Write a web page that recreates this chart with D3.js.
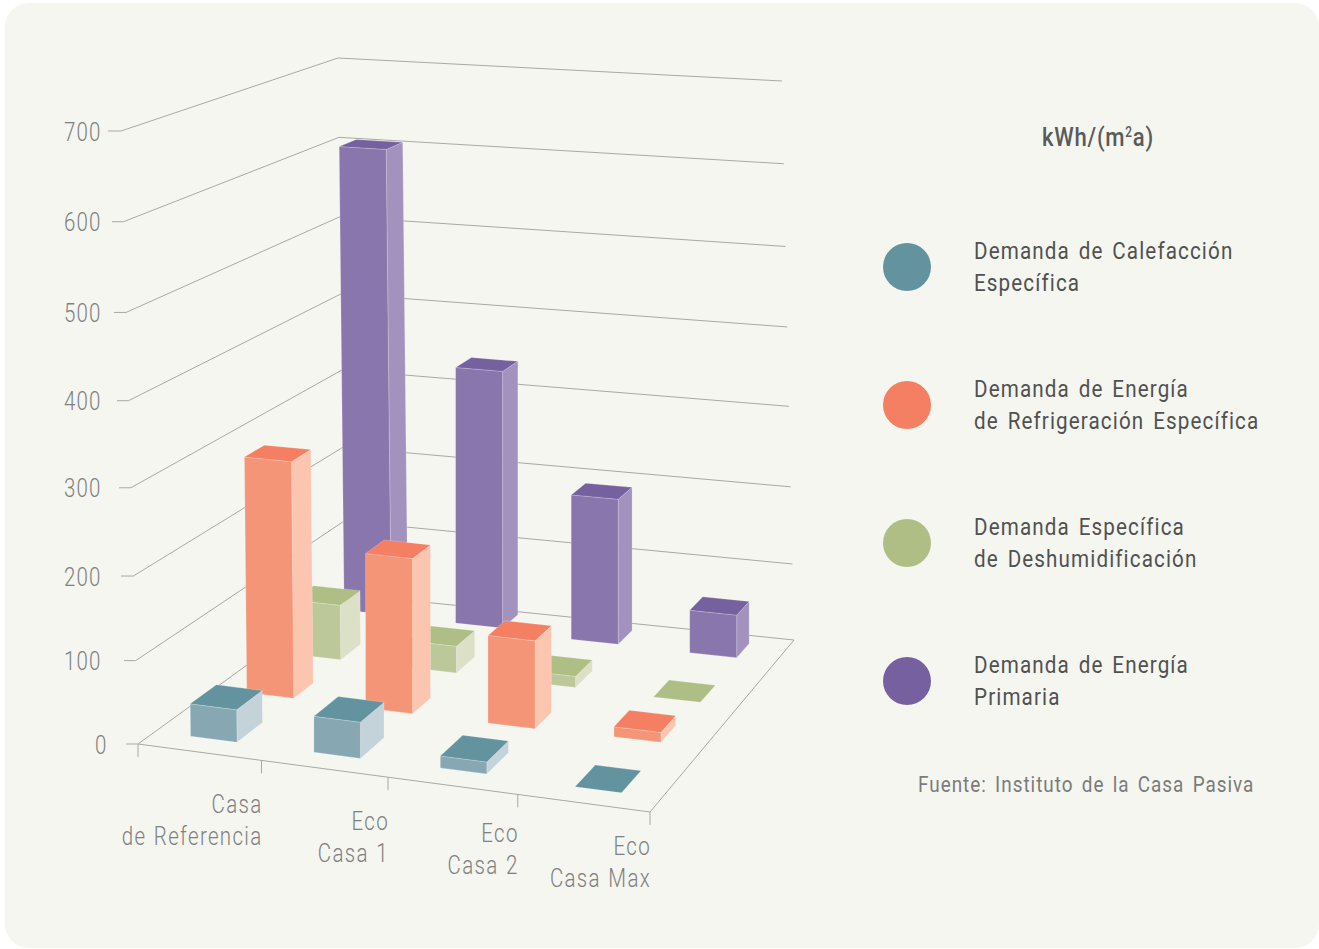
<!DOCTYPE html>
<html><head><meta charset="utf-8">
<script src="https://cdn.jsdelivr.net/npm/d3@7"></script>
<style>html,body{margin:0;padding:0;background:#fff}svg{display:block}text{font-family:Roboto,"Noto Sans",sans-serif}</style>
</head><body><div id="chart"></div>
<script>
// ---------- data ----------
const categories = ["Casa|de Referencia", "Eco|Casa 1", "Eco|Casa 2", "Eco|Casa Max"];
const seriesNames = ["Demanda de Calefacción|Específica", "Demanda de Energía|de Refrigeración Específica", "Demanda Específica|de Deshumidificación", "Demanda de Energía|Primaria"];
const calefaccion = [39, 43, 14, 0];
const refrigeracion = [288, 190, 107, 12];
const deshumidificacion = [70, 34, 14, 0];
const primaria = [595, 330, 188, 55];
const valueTicks = [0, 100, 200, 300, 400, 500, 600, 700];
const source = "Fuente: Instituto de la Casa Pasiva";

// ---------- layout / style ----------
const W = 1319, H = 949;
const floorQuad = [[138, 744], [650, 812], [794, 640], [345, 594]];   // FL, FR, BR, BL
const wallTopQuad = [[121, 131], [648, 173], [782, 81], [338, 58]];
const heightShare = [0, 0.136, 0.274, 0.418, 0.56, 0.704, 0.852, 1];
const categoryEdges = [0, 0.2575, 0.51, 0.758, 1];
const seriesCenters = [0.125, 0.3775, 0.625, 0.89];
const faceColors = [
  {top: "#62939f", front: "#87a8b3", side: "#c4d2d9"},
  {top: "#f47f62", front: "#f59578", side: "#fcc5b0"},
  {top: "#aebe84", front: "#bcc89a", side: "#dce0c6"},
  {top: "#7661a0", front: "#8976ac", side: "#a392bd"}
];
const legendColors = ["#62939f", "#f47f62", "#aebe84", "#7660a0"];
const barFrontPx = [46.5, 47, 47, 47];
const barDepthV = [0.46, 0.38, 0.42, 0.38];
// small per-bar pixel offsets of the drawn boxes, by series then category
const barNudge = [
  [[-1, -1], [-1.5, -1], [-2, -2], [3, 0]],
  [[-2, -1], [-3, 0], [-3, 0], [-2, -1.5]],
  [[-4, -2], [-4.5, -2], [-4, -1], [0, 0]],
  [[-4, -8], [-5, -7], [-4, -3], [-2, -2]]
];
const stubLeft = [126, 124, 121, 119, 117, 114, 112, 108];
const catLabelY = [804, 821, 833, 846];
const legendY = [267, 405, 543, 681];

const seriesValues = [calefaccion, refrigeracion, deshumidificacion, primaria];

// ---------- projection ----------
function squareToQuad([p0, p1, p2, p3]) {
  const dx1 = p1[0] - p2[0], dx2 = p3[0] - p2[0], sx = p0[0] - p1[0] + p2[0] - p3[0];
  const dy1 = p1[1] - p2[1], dy2 = p3[1] - p2[1], sy = p0[1] - p1[1] + p2[1] - p3[1];
  const den = dx1 * dy2 - dx2 * dy1;
  const g = (sx * dy2 - dx2 * sy) / den, h = (dx1 * sy - sx * dy1) / den;
  const a = p1[0] - p0[0] + g * p1[0], b = p3[0] - p0[0] + h * p3[0], c = p0[0];
  const d = p1[1] - p0[1] + g * p1[1], e = p3[1] - p0[1] + h * p3[1], f = p0[1];
  return (u, v) => { const w = g * u + h * v + 1; return [(a * u + b * v + c) / w, (d * u + e * v + f) / w]; };
}
const floorAt = squareToQuad(floorQuad), wallTopAt = squareToQuad(wallTopQuad);
const hScale = d3.scaleLinear().domain(valueTicks).range(heightShare);
const leanScale = d3.scaleLinear().domain([0, 0.125, 0.375, 1]).range([8, 6, 0, 0]);
function project(u, v, val) {
  const a = floorAt(u, v), b = wallTopAt(u, v), s = hScale(val);
  return [a[0] + (b[0] - a[0]) * s, a[1] + (b[1] - a[1]) * s];
}
const uScale = d3.scaleLinear().domain([0, 1, 2, 3, 4]).range(categoryEdges);
const vScale = d3.scaleOrdinal().domain(seriesNames).range(seriesCenters);

// ---------- drawing ----------
const svg = d3.select("#chart").append("svg").attr("width", W).attr("height", H);
svg.append("rect").attr("x", 5).attr("y", 3).attr("width", W - 5).attr("height", 945).attr("rx", 24).attr("fill", "#f5f6f0");

const line = d3.line();
const gridColor = "#a9a9a3";
const grid = svg.append("g").attr("fill", "none").attr("stroke", gridColor).attr("stroke-width", 1);
grid.selectAll("path.g").data(valueTicks).join("path").attr("class", "g")
  .attr("d", (d, i) => {
    const fl = project(0, 0, d);
    return line([[stubLeft[i], fl[1]], fl, project(0, 1, d), project(1, 1, d)]);
  });
grid.append("path").attr("d", line([project(0, 0, 0), project(1, 0, 0), project(1, 1, 0)]));

// category ticks
grid.selectAll("path.t").data(d3.range(5)).join("path").attr("class", "t")
  .attr("d", d => { const p = project(uScale(d), 0, 0); return line([p, [p[0], p[1] + 13]]); });

// bars, back to front
const cells = [];
for (let s = seriesNames.length - 1; s >= 0; s--) {
  for (let c = categories.length - 1; c >= 0; c--) {
    cells.push({s, c, value: seriesValues[s][c]});
  }
}
const bars = svg.append("g").selectAll("g").data(cells).join("g")
  .attr("transform", d => `translate(${barNudge[d.s][d.c]})`);
bars.each(function (d) {
  const g = d3.select(this);
  const uc = uScale(d.c + 0.5);
  const vc = vScale(seriesNames[d.s]);
  // bars rise nearly straight up: x stays on the floor point apart from a small lean
  const P = (u, v, val) => [floorAt(u, v)[0] - leanScale(uc) * hScale(val), project(u, v, val)[1]];
  const dv = 0.25 * barDepthV[d.s] / 2, v0 = vc - dv, v1 = vc + dv;
  const xPerU = (floorAt(uc + 0.01, v0)[0] - floorAt(uc - 0.01, v0)[0]) / 0.02;
  const du = barFrontPx[d.s] / xPerU / 2, u0 = uc - du, u1 = uc + du;
  const col = faceColors[d.s];
  const face = (pts, fill) => g.append("path").attr("d", line(pts) + "Z").attr("fill", fill)
    .attr("stroke", "#fff").attr("stroke-opacity", 0.25).attr("stroke-width", 0.8);
  if (d.value > 0) {
    face([P(u1, v0, 0), P(u1, v1, 0), P(u1, v1, d.value), P(u1, v0, d.value)], col.side);
    face([P(u0, v0, 0), P(u1, v0, 0), P(u1, v0, d.value), P(u0, v0, d.value)], col.front);
  }
  face([P(u0, v0, d.value), P(u1, v0, d.value), P(u1, v1, d.value), P(u0, v1, d.value)], col.top);
});

// condensed text helper
function label(parent, x, y, str, o) {
  return parent.append("text").attr("transform", `translate(${x},${y}) scale(${o.sx},1)`)
    .attr("text-anchor", o.anchor || "start").attr("font-size", o.size).attr("font-weight", o.weight)
    .attr("letter-spacing", o.ls).attr("word-spacing", o.ws || 0).attr("fill", o.fill).text(str);
}
const axisColor = "#7f8080";
const axisG = svg.append("g");
valueTicks.forEach(d => {
  label(axisG, d === 0 ? 107.5 : 101.5, project(0, 0, d)[1] + 9.5, d,
    {sx: 0.82, anchor: "end", size: 25, weight: 300, ls: 1.4, fill: axisColor});
});
categories.forEach((c, i) => {
  const x = project(uScale(i + 1), 0, 0)[0];
  c.split("|").forEach((t, j) => {
    label(axisG, x + 1, catLabelY[i] + 9 + j * 32, t,
      {sx: 0.82, anchor: "end", size: 25, weight: 300, ls: 1.6, ws: 1.5, fill: axisColor});
  });
});

// legend
const title = label(svg, 1042, 146, "kWh/(m", {sx: 0.85, size: 26, weight: 500, ls: 0.9, fill: "#5a5b5b"});
title.append("tspan").attr("font-size", 14).attr("dy", -9).text("2");
title.append("tspan").attr("dy", 9).text("a)");

const leg = svg.append("g").selectAll("g").data(seriesNames).join("g");
leg.append("circle").attr("cx", 907).attr("cy", (d, i) => legendY[i]).attr("r", 24).attr("fill", (d, i) => legendColors[i]);
leg.each(function (d, i) {
  d.split("|").forEach((t, j) => {
    label(d3.select(this), 974, legendY[i] - 8 + j * 32, t,
      {sx: 0.86, size: 24, weight: 400, ls: 1.3, ws: 3, fill: "#505151"});
  });
});
label(svg, 918, 791.5, source, {sx: 0.86, size: 22, weight: 400, ls: 1.15, ws: 3, fill: "#7a7b7b"});
</script></body></html>
